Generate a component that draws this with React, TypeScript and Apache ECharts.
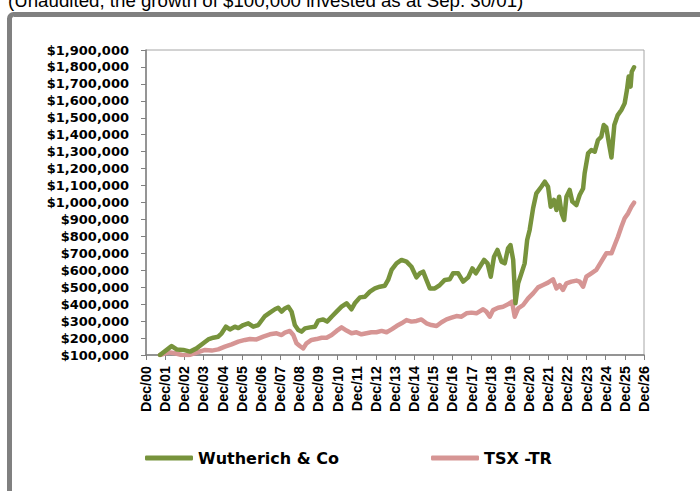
import React, { useEffect, useRef } from "react";
import * as echarts from "echarts";

// Years elapsed since Dec 2000 (Dec/00 = 0)
const wutherichYears = [
  0.73, 1.25, 1.34, 1.6, 1.95, 2.3, 2.64, 2.99, 3.25, 3.51, 3.77, 3.95, 4.17, 4.38, 4.64, 4.82,
  5.08, 5.34, 5.6, 5.86, 6.21, 6.47, 6.73, 6.9, 7.08, 7.25, 7.43, 7.6, 7.77, 7.95, 8.12, 8.3,
  8.56, 8.82, 8.99, 9.25, 9.46, 9.69, 9.95, 10.21, 10.47, 10.73, 10.9, 11.17, 11.43, 11.69,
  11.95, 12.21, 12.47, 12.64, 12.82, 13.08, 13.34, 13.6, 13.86, 14.12, 14.3, 14.47, 14.64,
  14.82, 15.08, 15.34, 15.6, 15.86, 16.03, 16.3, 16.56, 16.82, 17.04, 17.22, 17.43, 17.65,
  17.83, 18.0, 18.17, 18.35, 18.56, 18.73, 18.9, 19.03, 19.17, 19.29, 19.43, 19.6, 19.77,
  19.9, 20.03, 20.21, 20.38, 20.64, 20.82, 20.99, 21.13, 21.3, 21.43, 21.57, 21.7, 21.83,
  21.95, 22.12, 22.26, 22.47, 22.64, 22.82, 22.9, 23.08, 23.25, 23.43, 23.6, 23.77, 23.9,
  24.03, 24.17, 24.3, 24.45, 24.63, 24.82, 24.99, 25.11, 25.2, 25.3, 25.36, 25.48,
];
const wutherichValues = [
  100000, 145000, 153000, 133000, 130000, 120000, 139000, 169000, 192000, 202000, 208000,
  228000, 267000, 251000, 267000, 259000, 277000, 287000, 267000, 277000, 330000, 350000,
  370000, 379000, 356000, 375000, 385000, 356000, 277000, 248000, 238000, 257000, 263000,
  267000, 303000, 310000, 297000, 326000, 356000, 385000, 405000, 370000, 405000, 440000,
  444000, 474000, 493000, 503000, 509000, 543000, 602000, 641000, 661000, 651000, 621000,
  558000, 582000, 592000, 543000, 493000, 493000, 513000, 543000, 547000, 582000, 582000,
  533000, 558000, 611000, 582000, 621000, 661000, 641000, 562000, 680000, 720000, 651000,
  641000, 729000, 749000, 661000, 405000, 523000, 582000, 641000, 779000, 838000, 966000,
  1054000, 1093000, 1123000, 1093000, 975000, 1015000, 956000, 1034000, 936000, 897000,
  1034000, 1074000, 1005000, 985000, 1044000, 1083000, 1172000, 1290000, 1310000, 1300000,
  1369000, 1388000, 1457000, 1443000, 1349000, 1266000, 1457000, 1516000, 1546000, 1585000,
  1664000, 1743000, 1684000, 1772000, 1798000,
];

const tsxYears = [
  0.73, 1.17, 1.51, 1.86, 2.21, 2.64, 3.08, 3.43, 3.77, 4.12, 4.47, 4.82, 5.17, 5.43, 5.77,
  6.12, 6.47, 6.82, 7.08, 7.25, 7.51, 7.69, 7.86, 8.03, 8.21, 8.38, 8.64, 8.9, 9.17, 9.43,
  9.69, 9.95, 10.21, 10.47, 10.73, 10.99, 11.25, 11.51, 11.77, 12.03, 12.3, 12.56, 12.82,
  13.08, 13.34, 13.6, 13.86, 14.12, 14.38, 14.64, 14.9, 15.17, 15.43, 15.69, 15.95, 16.21,
  16.47, 16.73, 16.99, 17.25, 17.6, 17.77, 17.95, 18.12, 18.38, 18.64, 18.9, 19.11, 19.25,
  19.43, 19.69, 19.95, 20.21, 20.47, 20.73, 20.99, 21.25, 21.43, 21.6, 21.77, 21.95, 22.21,
  22.47, 22.64, 22.82, 22.99, 23.25, 23.51, 23.77, 24.03, 24.3, 24.47, 24.64, 24.82, 24.99,
  25.17, 25.34, 25.48,
];
const tsxValues = [
  100000, 116000, 110000, 100000, 98000, 114000, 130000, 126000, 133000, 149000, 163000,
  179000, 189000, 194000, 192000, 208000, 222000, 228000, 218000, 232000, 242000, 218000,
  169000, 153000, 139000, 169000, 189000, 194000, 202000, 202000, 218000, 242000, 263000,
  244000, 228000, 234000, 222000, 228000, 234000, 234000, 242000, 234000, 251000, 271000,
  287000, 306000, 297000, 301000, 310000, 287000, 277000, 271000, 293000, 310000, 320000,
  330000, 326000, 346000, 350000, 346000, 370000, 356000, 326000, 365000, 379000, 385000,
  399000, 415000, 326000, 375000, 395000, 434000, 464000, 499000, 513000, 527000, 547000,
  493000, 513000, 484000, 523000, 533000, 539000, 533000, 503000, 562000, 582000, 602000,
  651000, 700000, 700000, 749000, 798000, 857000, 907000, 936000, 975000, 999000,
];

const seriesNames = ["Wutherich & Co", "TSX -TR"];
const seriesColors = ["#77933C", "#D69594"];
const titleText = "(Unaudited, the growth of $100,000 invested as at Sep. 30/01)";

const yMin = 100000;
const yMax = 1900000;
const yStep = 100000;
const xMin = 0;
const xMax = 26;

const fmtY = (v: number) => "$" + Math.round(v).toLocaleString("en-US");
const fmtX = (v: number) => "Dec/" + String(Math.round(v)).padStart(2, "0");

export default function App() {
  const ref = useRef<HTMLDivElement>(null);
  useEffect(() => {
    if (!ref.current) return;
    const chart = echarts.init(ref.current, undefined, { renderer: "svg" });
    const font = "DejaVu Sans";
    chart.setOption({
      animation: false,
      backgroundColor: "#ffffff",
      graphic: [
        {
          type: "rect",
          shape: { x: 9.5, y: 14.5, width: 720, height: 520, r: 4 },
          style: { fill: "none", stroke: "#808080", lineWidth: 5 },
          silent: true,
        },
        {
          type: "text",
          x: 8,
          y: -9,
          style: {
            text: titleText,
            fill: "#000",
            font: "normal 18.7px 'Liberation Sans', Arial, sans-serif",
          },
          silent: true,
        },
      ],
      legend: {
        left: 145,
        top: 450,
        padding: 0,
        icon: "roundRect",
        itemWidth: 48,
        itemHeight: 5,
        itemGap: 92,
        data: seriesNames,
        textStyle: { fontFamily: font, fontWeight: "bold", fontSize: 16, color: "#000" },
      },
      grid: {
        left: 146,
        right: 56,
        top: 50,
        bottom: 136,
        show: true,
        borderColor: "#a6a6a6",
        borderWidth: 1,
        backgroundColor: "transparent",
      },
      xAxis: {
        type: "value",
        min: xMin,
        max: xMax,
        interval: 1,
        axisLine: { show: true, lineStyle: { color: "#808080", width: 1.5 } },
        axisTick: { show: true, length: 5, lineStyle: { color: "#808080" } },
        axisLabel: {
          rotate: 90,
          margin: 11,
          formatter: fmtX,
          fontFamily: "Liberation Sans",
          fontWeight: "bold",
          fontSize: 14.3,
          color: "#000",
        },
        splitLine: { show: false },
      },
      yAxis: {
        type: "value",
        min: yMin,
        max: yMax,
        interval: yStep,
        axisLine: { show: true, onZero: false, lineStyle: { color: "#808080", width: 1.5 } },
        axisTick: { show: true, length: 5, lineStyle: { color: "#808080" } },
        axisLabel: {
          margin: 17,
          formatter: fmtY,
          fontFamily: font,
          fontWeight: "bold",
          fontSize: 13,
          color: "#000",
        },
        splitLine: { show: false },
      },
      series: [
        {
          name: seriesNames[0],
          type: "line",
          data: wutherichYears.map((x, i) => [x, wutherichValues[i]]),
          showSymbol: false,
          color: seriesColors[0],
          lineStyle: { width: 4.5, color: seriesColors[0], cap: "round", join: "round" },
          z: 3,
        },
        {
          name: seriesNames[1],
          type: "line",
          data: tsxYears.map((x, i) => [x, tsxValues[i]]),
          showSymbol: false,
          color: seriesColors[1],
          lineStyle: { width: 4.5, color: seriesColors[1], cap: "round", join: "round" },
          z: 2,
        },
      ],
    });
    return () => chart.dispose();
  }, []);
  return (
    <div
      ref={ref}
      style={{ position: "fixed", left: 0, top: 0, width: 700, height: 491 }}
    />
  );
}
